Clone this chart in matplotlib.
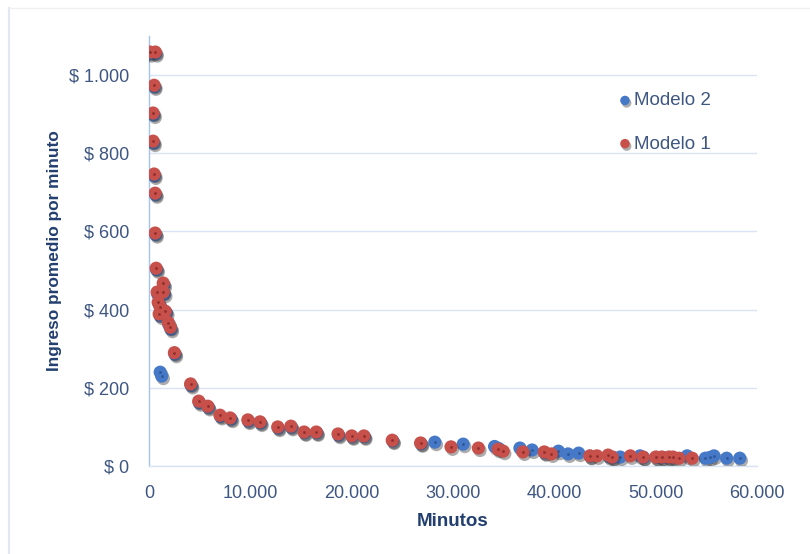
"""Scatter of average revenue per minute against minutes for two models."""

import matplotlib

matplotlib.use("Agg")
import matplotlib.patheffects as pe
import matplotlib.pyplot as plt
from matplotlib.lines import Line2D
from matplotlib.ticker import FuncFormatter

# Modelo 1
m1_minutes = [80, 620, 500, 400, 400, 500, 600, 600, 700, 1400, 800, 1400, 900, 1100,
              1600, 1000, 1900, 2100, 2500, 4100, 4900, 5800, 7000, 8000, 9750, 10950,
              12700, 14000, 15300, 16500, 18650, 20000, 21200, 24000, 26800, 29800,
              32500, 34450, 34950, 36900, 39000, 39700, 43500, 44200, 45300, 45700,
              47500, 48750, 50000, 50600, 51300, 51700, 52300, 53600]
m1_income = [1059, 1059, 974, 903, 831, 747, 698, 596, 506, 468, 445, 445, 419, 407,
             396, 389, 367, 355, 290, 210, 166, 153, 130, 123, 118, 113,
             100, 102, 87, 87, 82, 77, 77, 66, 59, 49,
             46, 43, 38, 36, 36, 31, 26, 26, 28, 23,
             26, 23, 23, 23, 23, 23, 20, 20]

# Modelo 2
m2_minutes = [100, 640, 520, 450, 450, 520, 640, 650, 750, 1450, 850, 1500, 1000, 1200,
              1700, 1100, 1950, 2150, 2550, 1100, 1250, 4150, 4950, 5850, 7050, 8100,
              9800, 11000, 12750, 14050, 15350, 16550, 18700, 20050, 21250, 24050,
              26850, 28200, 31000, 34100, 34500, 36600, 37800, 39050, 40400, 41350,
              42400, 43550, 45400, 45800, 46500, 48450, 48800, 50100, 50700, 51400,
              53100, 54900, 55350, 55750, 57000, 58300]
m2_income = [1055, 1055, 970, 898, 826, 742, 694, 592, 502, 462, 440, 440, 414, 402,
             392, 384, 362, 350, 286, 240, 230, 206, 162, 150, 127, 120,
             115, 110, 97, 99, 85, 85, 79, 75, 75, 64,
             57, 61, 56, 50, 45, 46, 41, 34, 38, 31,
             33, 25, 24, 22, 23, 26, 22, 22, 22, 22,
             26, 20, 22, 26, 20, 20]

y_ticks = [0, 200, 400, 600, 800, 1000]
x_ticks = [0, 10000, 20000, 30000, 40000, 50000, 60000]

BLUE = "#4678C8"
RED = "#C8504B"
TICK_COLOR = "#3E5682"
TITLE_COLOR = "#223F70"
GRID_COLOR = "#D8E4F4"
AXIS_COLOR = "#A8C3EA"


def thousands(value, _pos):
    return f"{int(value):,}".replace(",", ".")


fig = plt.figure(figsize=(8.1, 5.54), dpi=100)
# faint chart-area edge on the left and top
fig.add_artist(Line2D([0.0117, 0.0117], [0.0, 0.985], transform=fig.transFigure,
                      color="#E2E7F5", linewidth=1.6))
fig.add_artist(Line2D([0.0117, 1.0], [0.985, 0.985], transform=fig.transFigure,
                      color="#F0F0F0", linewidth=1.0))
ax = fig.add_axes([0.184, 0.1588, 0.7506, 0.7762])

shadow = [pe.SimplePatchShadow(offset=(1.2, -1.8), alpha=0.4, shadow_rgbFace="#303030"),
          pe.Normal()]
blue = ax.scatter(m2_minutes, m2_income, s=90, color=BLUE, linewidths=0,
                  zorder=3, path_effects=shadow, label="Modelo 2")
red = ax.scatter(m1_minutes, m1_income, s=90, color=RED, linewidths=0,
                 zorder=4, path_effects=shadow, label="Modelo 1")
# small darker centre on each marker
ax.scatter(m2_minutes, m2_income, s=4, color="#2F5597", linewidths=0, zorder=3.5)
ax.scatter(m1_minutes, m1_income, s=4, color="#8E2E2B", linewidths=0, zorder=4.5)

ax.set_xlim(0, 60000)
ax.set_ylim(0, 1100)
ax.set_xticks(x_ticks)
ax.set_yticks(y_ticks)
ax.xaxis.set_major_formatter(FuncFormatter(thousands))
ax.yaxis.set_major_formatter(FuncFormatter(lambda v, p: "$ " + thousands(v, p)))

ax.grid(axis="y", color=GRID_COLOR, linewidth=1.0, zorder=0)
ax.set_axisbelow(True)
for side in ["top", "right"]:
    ax.spines[side].set_visible(False)
ax.spines["left"].set_color(AXIS_COLOR)
ax.spines["bottom"].set_color(GRID_COLOR)
ax.spines["left"].set_linewidth(1.0)
ax.spines["bottom"].set_linewidth(1.0)
ax.tick_params(length=0, labelsize=13, labelcolor=TICK_COLOR, pad=14)
for label in ax.get_xticklabels() + ax.get_yticklabels():
    label.set_fontfamily("Liberation Sans")

ax.set_xlabel("Minutos", fontsize=13.5, fontweight="bold", color=TITLE_COLOR,
              family="Liberation Sans", labelpad=7.5)
ax.set_ylabel("Ingreso promedio por minuto", fontsize=12.4, fontweight="bold",
              color=TITLE_COLOR, family="Liberation Sans", labelpad=5)

legend = ax.legend(handles=[blue, red], loc="upper left", bbox_to_anchor=(0.7535, 0.891),
                   frameon=False, markerscale=0.72, labelspacing=1.39, handletextpad=0.05,
                   handlelength=0.9, borderpad=0,
                   prop={"family": "Liberation Sans", "size": 13.5})
for text in legend.get_texts():
    text.set_color(TICK_COLOR)

fig.savefig("out.png", dpi=100)
